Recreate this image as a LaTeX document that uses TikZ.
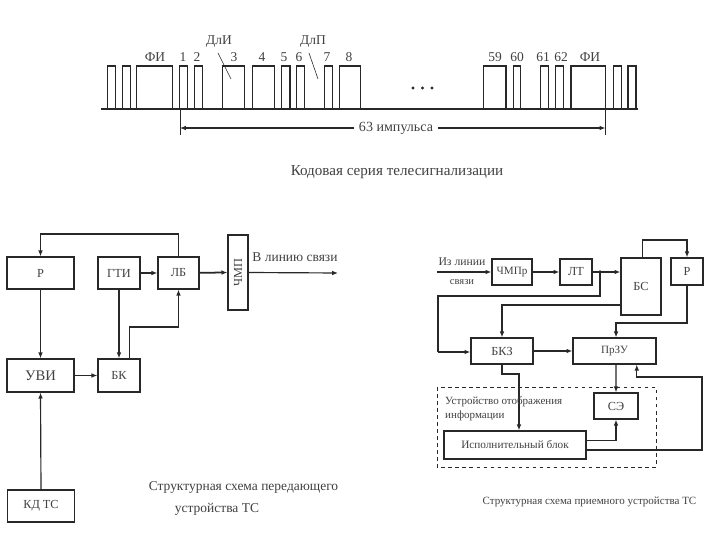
\documentclass[tikz,border=0pt]{standalone}
\usepackage{fontspec}
\setmainfont{Liberation Serif}
\usetikzlibrary{arrows.meta}
\definecolor{scanink}{RGB}{40,40,40}
\definecolor{scantext}{RGB}{65,65,65}
\tikzset{
  block/.style={draw=scanink,line width=1.1pt,inner sep=0pt,text=scantext,font=\fontsize{10.5}{12}\selectfont},
  sig/.style={draw=scanink,line width=1pt,-{Latex[length=5pt,width=4pt]}},
  sigthick/.style={sig,line width=1.5pt},
  lab/.style={inner sep=0pt,text=scantext,font=\fontsize{11.5}{13}\selectfont},
  capt/.style={inner sep=0pt,text=scantext,font=\fontsize{11.5}{13}\selectfont}
}
\begin{document}
\begin{tikzpicture}[x=0.03cm,y=-0.03cm]
  \useasboundingbox (0,0) rectangle (720,540);
  \fill[white] (0,0) rectangle (720,540);

  % code series
  \draw[scanink,line width=1.2pt] (101,109) -- (638,109);
  \foreach \a/\b in {107.5/115.5,122.5/130.5,136.5/172.5,179.5/187.5,194.5/202.5,222.5/244.5,252.5/274.5,281.5/290,296.5/304.5,324.5/332.5,339.5/360.5,483.5/506,513.5/520.5,540.5/548.5,555.5/563.5,571/605.5,613.5/621.5,628/636}
    \draw[scanink,line width=0.9pt] (\a,109) -- (\a,66) -- (\b,66) -- (\b,109);
  \foreach \x/\t in {155/ФИ,183/1,197/2,234/3,262/4,284/5,299/6,327/7,349/8,495/59,517/60,543/61,561/62,590/ФИ}
    \node[lab] at (\x,57) {\t};
  \node[lab] (dli) at (219,42) {ДлИ};
  \node[lab] (dlp) at (313,42) {ДлП};
  \coordinate (dlia) at (231,79);
  \coordinate (dlpa) at (318,79);
  \draw[scanink,line width=0.5pt] (218,53) -- (dlia);
  \draw[scanink,line width=0.5pt] (309,53) -- (dlpa);
  \foreach \x in {413,422.5,432}
    \fill[scanink] (\x,88) circle (1.7);
  \draw[scanink,line width=0.5pt] (180,109) -- (180,135);
  \draw[scanink,line width=0.5pt] (605.5,109) -- (605.5,135);
  \node[lab,font=\fontsize{12}{14}\selectfont,inner xsep=4pt] (count) at (396,128) {63 импульса};
  \coordinate (counta) at (180,128);
  \coordinate (countb) at (605.5,128);
  \draw[sig] (count) -- (counta);
  \draw[sig] (count) -- (countb);
  \node[capt,font=\fontsize{12.9}{15}\selectfont] at (397,172) {Кодовая серия телесигнализации};

  % transmitter
  \node[block,minimum width=2.01cm,minimum height=0.96cm] (pr) at (40.5,273) {Р};
  \node[block,minimum width=1.26cm,minimum height=0.96cm] (gti) at (119,273) {ГТИ};
  \node[block,minimum width=1.23cm,minimum height=0.96cm] (lb) at (178.5,273) {ЛБ};
  \node[block,minimum width=2.25cm,minimum height=0.6cm,rotate=90] (chmp) at (238,272.5) {ЧМП};
  \node[block,font=\fontsize{12.5}{14}\selectfont,minimum width=2.01cm,minimum height=0.99cm] (uvi) at (40.5,375.5) {УВИ};
  \node[block,minimum width=1.26cm,minimum height=0.99cm] (bk) at (119,375.5) {БК};
  \node[block,minimum width=2.01cm,minimum height=0.96cm] (kd) at (41,506) {КД ТС};
  \coordinate (line) at (338,273);
  \coordinate (topbus) at (100,234);
  \coordinate (bkbus) at (150,327);
  \draw[sig] (lb.north) |- (topbus) -| (pr.north);
  \draw[sig] (pr) -- (uvi);
  \draw[sigthick] (gti) -- (lb);
  \draw[sigthick] (lb) -- (chmp.north);
  \draw[sig] (chmp.south) -- (line);
  \draw[sig] (gti) -- (bk);
  \draw[sig] ([xshift=9pt]bk.north) |- (bkbus) -| (lb.south);
  \draw[sigthick] (uvi) -- (bk);
  \draw[sig] (kd.north) -- (uvi.south);
  \node[lab] at (295,257) {В линию связи};
  \node[capt] at (243.5,487) {Структурная схема передающего};
  \node[capt] at (217,509) {устройства ТС};

  % receiver
  \node[block,font=\fontsize{9.5}{11}\selectfont,minimum width=1.2cm,minimum height=0.78cm] (chmpr) at (512,272) {ЧМПр};
  \node[block,minimum width=0.96cm,minimum height=0.78cm] (lt) at (576,272) {ЛТ};
  \node[block,minimum width=1.2cm,minimum height=1.71cm] (bs) at (641,286.5) {БС};
  \node[block,minimum width=0.96cm,minimum height=0.81cm] (rr) at (687,271.5) {Р};
  \node[block,minimum width=1.86cm,minimum height=0.78cm] (bkz) at (502,351) {БКЗ};
  \node[block,font=\fontsize{9.5}{11}\selectfont,minimum width=2.49cm,minimum height=0.78cm] (przu) at (614.5,351) {ПрЗУ};
  \node[block,minimum width=1.32cm,minimum height=0.78cm] (se) at (616,406) {СЭ};
  \node[block,font=\fontsize{9.6}{11}\selectfont,minimum width=4.26cm,minimum height=0.84cm] (ib) at (515,445) {Исполнительный блок};
  \draw[scanink,line width=0.8pt,dashed] (437,387) rectangle (656,467);
  \coordinate (input) at (437,272);
  \coordinate (tap) at (600,272);
  \coordinate (tapbus) at (520,296);
  \coordinate (tapleft) at (438,352);
  \coordinate (bsbus) at (560,305);
  \coordinate (bstop) at (665,240);
  \coordinate (rbus) at (650,323);
  \coordinate (bkzbus) at (510,374);
  \coordinate (fbbus) at (702,377);
  \coordinate (fbend) at ([xshift=19pt]przu.south);
  \draw[sigthick] (input) -- (chmpr);
  \draw[sig] (chmpr) -- (lt);
  \draw[sig] (lt) -- (bs.west |- lt);
  \fill[scanink] (tap) circle (1.8);
  \draw[scanink,line width=1.2pt] (tap) |- (tapbus) -- (tapbus -| tapleft) -- (tapleft);
  \draw[sigthick] (tapleft) -- (tapleft -| bkz.west);
  \draw[sig] (bs.west |- bsbus) -- (bsbus -| bkz.north) -- (bkz.north);
  \draw[sig] ([xshift=1pt]bs.north) |- (bstop) -| (rr.north);
  \draw[sig] (rr.south) |- (rbus) -| ([xshift=1.3pt]przu.north);
  \draw[sigthick] (bkz) -- (przu);
  \draw[sig] (bkz.south) |- (bkzbus) -| ([xshift=3.4pt]ib.north);
  \draw[sig] ([xshift=1.3pt]przu.south) -- (se.north);
  \draw[sig] ([yshift=3.5pt]ib.east) -| (se.south);
  \draw[sig,line width=1.2pt] ([yshift=-4.3pt]ib.east) -| (fbbus) -| (fbend);
  \node[lab,font=\fontsize{10}{12}\selectfont] at (462,262) {Из линии};
  \node[lab,font=\fontsize{9}{11}\selectfont] at (462,282) {связи};
  \node[lab,font=\fontsize{9.4}{11}\selectfont,anchor=west] at (445,402) {Устройство отображения};
  \node[lab,font=\fontsize{9.4}{11}\selectfont,anchor=west] at (445,416) {информации};
  \node[capt,font=\fontsize{9.4}{11}\selectfont] at (589.5,502) {Структурная схема приемного устройства ТС};
\end{tikzpicture}
\end{document}
